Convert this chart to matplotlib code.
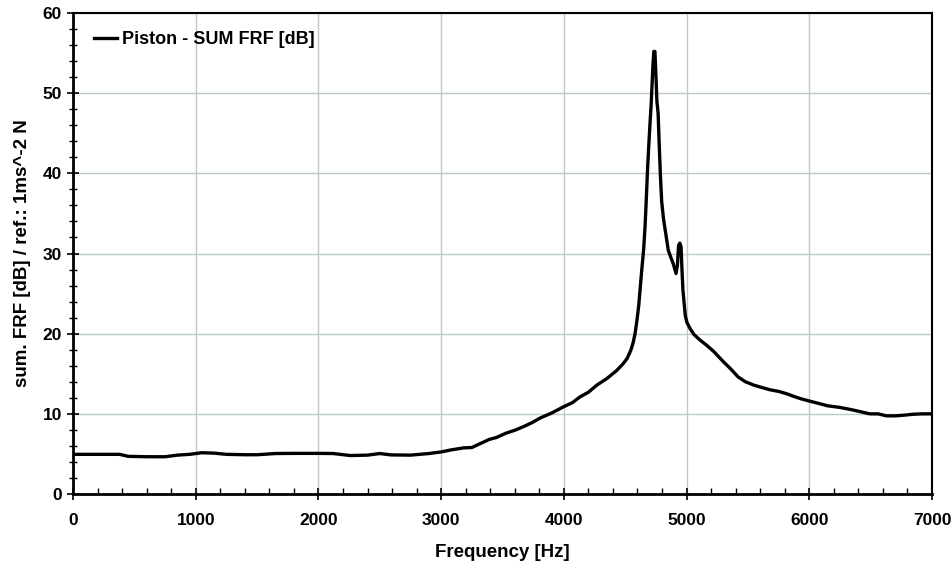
import matplotlib.pyplot as plt
from matplotlib.ticker import MultipleLocator

plt.rcParams['font.family'] = ['Liberation Sans', 'DejaVu Sans']
plt.rcParams['font.weight'] = 'bold'

# Frequency [Hz] and summed FRF [dB]
freq = [0, 200, 380, 450, 600, 750, 850, 950, 1050, 1150, 1250, 1400, 1500,
        1650, 1800, 2000, 2120, 2260, 2400, 2500, 2590, 2750, 2900, 3000,
        3080, 3180, 3250, 3320, 3390, 3450, 3530, 3600, 3670, 3740, 3810,
        3900, 4000, 4070, 4130, 4200, 4270, 4350, 4430, 4480, 4515, 4545,
        4565, 4580, 4595, 4610, 4620, 4635, 4650, 4662, 4670, 4682, 4692,
        4703, 4711, 4720, 4726, 4733, 4742, 4748, 4752, 4758, 4768, 4776,
        4786, 4797, 4812, 4830, 4851, 4872, 4892, 4914, 4925, 4935, 4945,
        4955, 4963, 4970, 4980, 4990, 5003, 5030, 5060, 5110, 5160, 5220,
        5300, 5360, 5420, 5480, 5545, 5610, 5680, 5750, 5817, 5870, 5927,
        6000, 6076, 6150, 6250, 6350, 6493, 6560, 6628, 6700, 6750, 6845,
        6920, 7000]
frf = [4.95, 4.95, 4.95, 4.7, 4.65, 4.65, 4.85, 4.95, 5.15, 5.1, 4.95, 4.9,
       4.9, 5.05, 5.07, 5.07, 5.05, 4.8, 4.85, 5.05, 4.88, 4.85, 5.05, 5.25,
       5.5, 5.75, 5.8, 6.3, 6.8, 7.05, 7.6, 7.95, 8.4, 8.9, 9.5, 10.1, 10.9,
       11.4, 12.1, 12.7, 13.6, 14.4, 15.4, 16.2, 16.9, 17.9, 18.9, 20.0,
       21.6, 23.5, 25.3, 28.0, 30.5, 33.5, 36.2, 40.5, 43.5, 46.5, 48.5,
       51.5, 53.5, 55.2, 55.2, 53.0, 51.5, 49.0, 47.5, 44.0, 40.0, 36.5,
       34.3, 32.5, 30.4, 29.5, 28.7, 27.5, 28.5, 31.0, 31.3, 30.8, 27.8,
       25.5, 23.8, 22.2, 21.4, 20.6, 19.9, 19.2, 18.6, 17.8, 16.5, 15.6,
       14.6, 14.0, 13.6, 13.3, 13.0, 12.8, 12.5, 12.2, 11.9, 11.6, 11.3,
       11.0, 10.8, 10.5, 10.0, 10.0, 9.75, 9.75, 9.8, 9.95, 10.0, 10.0]

fig = plt.figure(figsize=(9.52, 5.7), dpi=100)
ax = fig.add_axes([0.0767, 0.1333, 0.9023, 0.8439])

ax.plot(freq, frf, color='black', linewidth=2.4, label='Piston - SUM FRF [dB]')

ax.set_xlim(0, 7000)
ax.set_ylim(0, 60)
ax.xaxis.set_major_locator(MultipleLocator(1000))
ax.xaxis.set_minor_locator(MultipleLocator(200))
ax.yaxis.set_major_locator(MultipleLocator(10))
ax.yaxis.set_minor_locator(MultipleLocator(2))

ax.grid(True, which='major', color='#bccaca', linewidth=1.0)
ax.set_axisbelow(True)

ax.tick_params(axis='x', which='major', direction='inout', length=8, width=1.2,
               labelsize=12.5, pad=10)
ax.tick_params(axis='x', which='minor', direction='in', length=4, width=1)
ax.tick_params(axis='y', which='major', direction='inout', length=8, width=1.2,
               labelsize=12.5, pad=4)
ax.tick_params(axis='y', which='minor', direction='inout', length=6, width=1)

for side in ['left', 'bottom']:
    ax.spines[side].set_linewidth(2)
for side in ['top', 'right']:
    ax.spines[side].set_linewidth(1.5)

ax.set_xlabel('Frequency [Hz]', fontsize=13.5, fontweight='bold', labelpad=11)
ax.set_ylabel('sum. FRF [dB] / ref.: 1ms^-2 N', fontsize=13.5,
              fontweight='bold', labelpad=8)

ax.legend(loc='upper left', bbox_to_anchor=(0.0244, 0.962), frameon=False,
          fontsize=13, handlelength=1.25, handletextpad=0.3, borderpad=0,
          borderaxespad=0)

fig.savefig('out.png', dpi=100)
